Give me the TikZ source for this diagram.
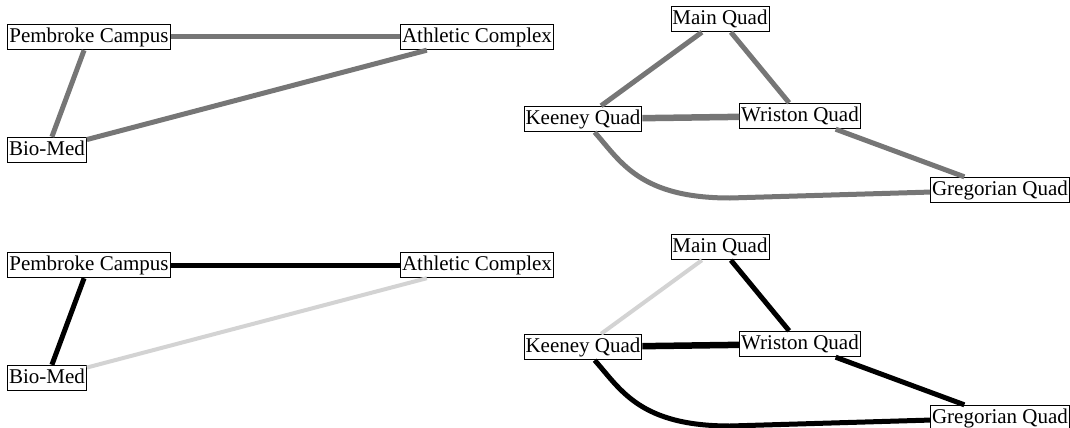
\documentclass[tikz,border=0pt]{standalone}
\usepackage{fontspec}
\setmainfont{Liberation Serif}
\usepackage{tikz}
\definecolor{roadgray}{RGB}{118,118,118}
\definecolor{roadlight}{RGB}{211,211,211}
\tikzset{
  place/.style = {draw,fill=white,line width=0.9pt,inner xsep=1.5pt,inner ysep=3pt,
                  text height=15pt,text depth=4.5pt,font=\fontsize{21}{25}\selectfont},
  road/.style  = {line width=5pt},
  wide/.style  = {line width=6.5pt},
  slim/.style  = {line width=4pt,roadlight}
}

\begin{document}
\begin{tikzpicture}[x=1pt,y=-1pt]
  \useasboundingbox (0,0) rectangle (1070,428);
  % upper map: every road in gray
  \node[place] (pemA)  at (89,37)   {Pembroke Campus};
  \node[place] (athA)  at (477,37)  {Athletic Complex};
  \node[place] (bioA)  at (47,150)  {Bio-Med};
  \node[place] (mainA) at (720,19)  {Main Quad};
  \node[place] (keeA)  at (583,119) {Keeney Quad};
  \node[place] (wriA)  at (800,116) {Wriston Quad};
  \node[place] (greA)  at (1000,190) {Gregorian Quad};
  \draw[road,roadgray] (pemA) -- (athA);
  \draw[road,roadgray] (pemA) -- (bioA);
  \draw[road,roadgray] (bioA) -- (athA);
  \draw[road,roadgray] (mainA) -- (keeA);
  \draw[road,roadgray] (mainA) -- (wriA);
  \draw[wide,roadgray] (keeA) -- (wriA);
  \draw[road,roadgray] (wriA) -- (greA);
  \draw[road,roadgray] (keeA) .. controls (621,162) and (640,198) .. (730,198) -- (greA);
  % lower map: chosen roads in black
  \begin{scope}[yshift=-228pt]
    \node[place] (pemB)  at (89,37)   {Pembroke Campus};
    \node[place] (athB)  at (477,37)  {Athletic Complex};
    \node[place] (bioB)  at (47,150)  {Bio-Med};
    \node[place] (mainB) at (720,19)  {Main Quad};
    \node[place] (keeB)  at (583,119) {Keeney Quad};
    \node[place] (wriB)  at (800,116) {Wriston Quad};
    \node[place] (greB)  at (1000,190) {Gregorian Quad};
    \draw[road,black] (pemB) -- (athB);
    \draw[road,black] (pemB) -- (bioB);
    \draw[slim]       (bioB) -- (athB);
    \draw[slim]       (mainB) -- (keeB);
    \draw[road,black] (mainB) -- (wriB);
    \draw[wide,black] (keeB) -- (wriB);
    \draw[road,black] (wriB) -- (greB);
    \draw[road,black] (keeB) .. controls (621,162) and (640,198) .. (730,198) -- (greB);
  \end{scope}
\end{tikzpicture}
\end{document}
